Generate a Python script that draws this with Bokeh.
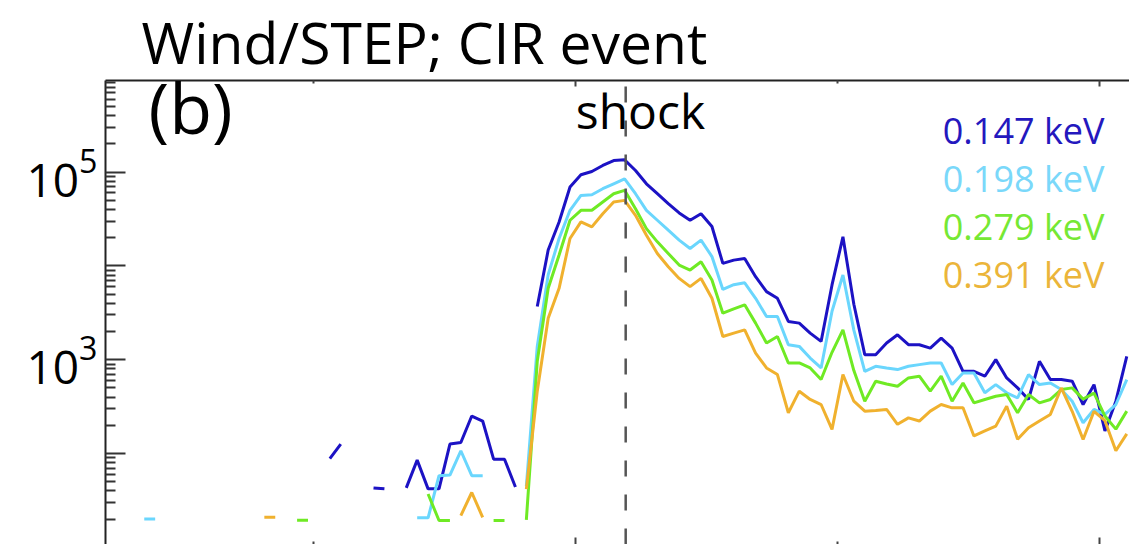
import numpy as np
from bokeh.plotting import figure
from bokeh.models import Range1d, LinearAxis, FixedTicker, Label, Span
from bokeh.embed import file_html
from bokeh.resources import INLINE

N = None
# hourly bins (hours relative to the first labelled day tick)
hours = np.arange(-15.5, 75.0, 1.0)

flux_0147 = ([N] * 17 + [88, 126, N, N, 43, 42, N, 43, 85, 42, 42, 126, 131, 251, 222, 87, 87, 44, N] +
             [3690, 14760, 29440, 69340, 93760, 101600, 117800, 133000, 135200, 104200, 75160,
              58880, 46130, 36730, 30690, 36060, 26300, 10640, 11530, 12020, 7670, 5320, 4520,
              2560, 2455, 1923, 1567, 6270, 20420, 3900, 1132, 1132, 1507, 1845, 1445, 1445,
              1330, 1698, 1330, 753, 753, 667, 1002, 640, 501, 377, 962, 615, 615, 590, 333,
              543, 174, 361, 1086])
flux_0198 = ([20, 20] + [N] * 23 + [20.6, 20.6, 58, 59, 107, 58, 58] + [N] * 3 + [45] +
             [1387, 8050, 19590, 39170, 56490, 57410, 66530, 75160, 84920, 58880, 39170, 30690,
              24040, 18840, 15350, 18840, 12590, 5620, 6310, 6610, 4520, 2890, 2890, 1445, 1387,
              1042, 817, 3290, 8000, 2070, 753, 851, 817, 785, 851, 887, 923, 923, 543, 723, 723,
              444, 543, 444, 392, 695, 543, 566, 481, 361, 213, 295, 261, 333, 615])
flux_0279 = ([N] * 14 + [19.4, 19.4] + [N] * 10 + [37, 19.3, 19.3] + [N] * 3 + [19.3, 19.3] + [N] + [19.6] +
             [962, 5770, 13060, 30690, 39170, 39170, 48080, 58880, 63970, 40740, 25000, 18070,
              13580, 10210, 9036, 11090, 7080, 3133, 3480, 3846, 2455, 1507, 1770, 923, 923, 817,
              615, 1200, 2084, 766, 361, 590, 552, 522, 640, 667, 462, 667, 361, 566, 347, 377,
              408, 426, 272, 426, 347, 377, 481, 501, 380, 440, 251, 182, 283])
flux_0391 = ([N] * 11 + [20.9, 20.9] + [N] * 16 + [21.8, 38.4, 20.9] + [N] * 3 + [41.8] +
             [462, 2773, 5770, 19590, 29440, 26060, 36060, 48080, 50000, 34670, 21280, 13580,
              9817, 7362, 6012, 7362, 4520, 1770, 1923, 2084, 1178, 817, 695, 272, 462, 377, 333,
              181, 695, 361, 283, 288, 295, 205, 240, 222, 283, 333, 307, 307, 154, 174, 196, 320,
              142, 188, 222, 261, 500, 282, 141, 282, 224, 107, 162])

series = [flux_0147, flux_0198, flux_0279, flux_0391]
energy_labels = ["0.147 keV", "0.198 keV", "0.279 keV", "0.391 keV"]
line_colors = ["#1c12c4", "#6ad6fd", "#6fea24", "#f0b12e"]
text_colors = ["#2418be", "#7ad8fa", "#76e834", "#ebb53a"]
shock_hour = 28.6
y_ticks = [1e1, 1e2, 1e3, 1e4, 1e5, 1e6]
y_labelled = [1e3, 1e5]
day_ticks = [24, 72]
half_ticks = [0, 48]

FONT = "Open Sans"
X0, X1 = -19.05, 74.75
LO, HI = 1.03, 5.977
FL, FT, FW, FH = 105, 78, 1024, 466


def dx(px):
    return X0 + (px - FL) * (X1 - X0) / FW


def dy(py, size):
    # Label baseline sits ~0.4 em below its anchor; compensate so py is the glyph baseline
    py = py - 0.4 * size
    return 10 ** (HI - (py - FT) * (HI - LO) / FH)


p = figure(width=1129, height=544, x_range=Range1d(X0, X1), y_range=Range1d(10 ** LO, 10 ** HI),
           y_axis_type="log", x_axis_location=None, output_backend="svg", toolbar_location=None,
           min_border_left=FL, min_border_right=0, min_border_top=FT, min_border_bottom=0,
           title="Wind/STEP; CIR event")
p.title.text_font = FONT
p.title.text_font_size = "57px"
p.title.text_font_style = "normal"
p.title.text_color = "black"
p.title.align = "left"
p.title.offset = 36
p.title.standoff = 0
p.outline_line_color = None
p.xgrid.visible = False
p.ygrid.visible = False
p.background_fill_color = "white"
p.border_fill_color = "white"

ya = p.yaxis[0]
ya.ticker = FixedTicker(ticks=y_ticks,
                        minor_ticks=[m * 10 ** e for e in range(1, 6) for m in range(2, 10)])
ya.major_label_overrides = {t: "" for t in y_ticks if t not in y_labelled}
ya.major_tick_in = 20
ya.major_tick_out = 0
ya.minor_tick_in = 10
ya.minor_tick_out = 0
ya.axis_line_width = 2
ya.axis_line_color = "#222222"
ya.major_tick_line_width = 2
ya.major_tick_line_color = "#333333"
ya.minor_tick_line_width = 2
ya.minor_tick_line_color = "#333333"
ya.major_label_text_font = FONT
ya.major_label_text_font_size = "46px"
ya.major_label_text_color = "black"
ya.major_label_standoff = 8

for loc, tin, minin, line in [("above", 6, 3, True), ("below", 7, 3, False)]:
    ax = LinearAxis(ticker=FixedTicker(ticks=day_ticks, minor_ticks=half_ticks),
                    major_label_overrides={t: "" for t in day_ticks},
                    major_label_text_font_size="1px", major_label_standoff=0,
                    major_tick_in=tin, major_tick_out=0, minor_tick_in=minin, minor_tick_out=0,
                    major_tick_line_width=2, minor_tick_line_width=2,
                    major_tick_line_color="#444444", minor_tick_line_color="#444444",
                    axis_line_width=2, axis_line_color="#222222" if line else None)
    p.add_layout(ax, loc)

p.add_layout(Span(location=shock_hour, dimension="height", line_color="#555555",
                  line_width=2.5, line_dash="16 18", line_dash_offset=28))

for vals, col in zip(series, line_colors):
    p.line(hours, np.array(vals, dtype=float), line_color=col, line_width=3)

p.add_layout(Label(x=dx(148), y=dy(133, 70), text="(b)", text_font=FONT,
                   text_font_size="70px", text_color="black", text_baseline="alphabetic"))
p.add_layout(Label(x=dx(640), y=dy(127, 48), text="shock", text_font=FONT, text_align="center",
                   text_font_size="48px", text_color="black", text_baseline="alphabetic"))
for lbl, col, py in zip(energy_labels, text_colors, [143, 191, 239, 287]):
    p.add_layout(Label(x=dx(1104), y=dy(py, 36), text=lbl, text_font=FONT, text_align="right",
                       text_font_size="36px", text_color=col, text_baseline="alphabetic"))

open("out.html", "w").write(file_html(p, INLINE))
